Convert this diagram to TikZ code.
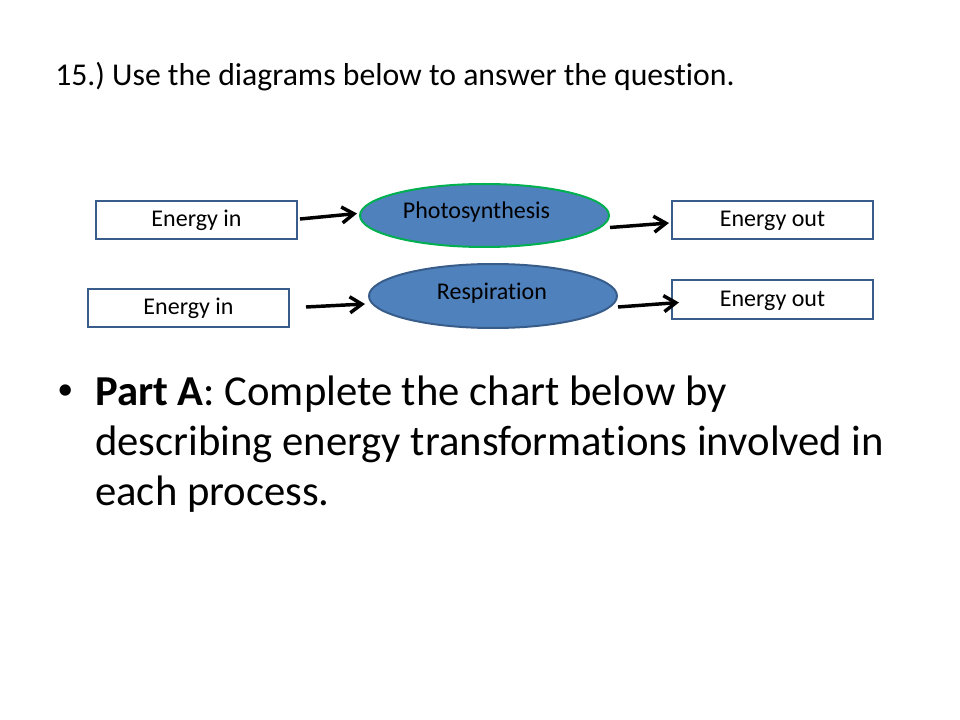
\documentclass[tikz,border=0pt]{standalone}
\usepackage{fontspec}
\setmainfont[Ligatures=NoCommon]{Carlito}
\frenchspacing
\usetikzlibrary{shapes.geometric,arrows.meta,calc}
\definecolor{boxblue}{RGB}{56,93,138}
\definecolor{fillblue}{RGB}{79,129,189}
\definecolor{ringgreen}{RGB}{0,176,80}
\tikzset{
  energybox/.style={draw=boxblue, line width=1.5pt, fill=white, inner sep=0pt,
    minimum width=150.75pt, minimum height=28.5pt, text height=13.5pt, text depth=3pt,
    font=\fontsize{18}{21}\selectfont},
  process/.style={ellipse, draw=boxblue, line width=1.5pt, fill=fillblue, inner sep=0pt,
    minimum width=186.75pt, minimum height=47.25pt},
  proclabel/.style={inner sep=0pt, font=\fontsize{18}{21}\selectfont},
  flow/.style={line width=2.6pt, -{Straight Barb[length=9pt, width=12pt, line width=2.6pt]}},
  slidetext/.style={anchor=base west, inner sep=0pt, font=\fontsize{32}{37}\selectfont}
}
\begin{document}
\begin{tikzpicture}[x=0.75pt, y=-0.75pt]
% slide area
\fill[white] (0,0) rectangle (960,720);
\useasboundingbox (0,0) rectangle (960,720);

% question
\node[anchor=base west, inner sep=0pt, font=\fontsize{23.8}{28}\selectfont] (question) at (55,86)
  {15.) Use the diagrams below to answer the question.};

% photosynthesis row
\node[energybox] (inA) at (196.5,220) {Energy in};
\node[process, draw=ringgreen] (photo) at (484.5,215.5) {};
\node[proclabel] (photoText) at ($(photo.center)+(-8,-3)$) {Photosynthesis};
\node[energybox] (outA) at (772.5,220) {Energy out};

% respiration row
\node[energybox] (inB) at (188.5,308) {Energy in};
\node[process, minimum width=186pt, minimum height=48pt] (resp) at (493,296) {};
\node[proclabel] (respText) at ($(resp.center)+(-1,-3)$) {Respiration};
\node[energybox] (outB) at (772.5,299.5) {Energy out};

% arrows
\draw[flow] ($(inA.east)+(2,-1)$) -- ($(photo.west)+(-2,-2)$);
\draw[flow] ($(photo.east)+(0,12)$) -- ($(outA.west)+(-2,3)$);
\draw[flow] ($(inB.east)+(16,-1)$) -- ($(resp.west)+(-3,8)$);
\draw[flow] ($(resp.east)+(0,11)$) -- ($(outB.west)+(8,3)$);

% part A
\node[anchor=base west, inner sep=0pt, font=\fontsize{24}{28}\selectfont] (dot) at (57,399) {\textbullet};
\node[slidetext] (partA1) at (95,405) {\textbf{Part A}: Complete the chart below by};
\node[slidetext] (partA2) at ($(partA1.base west)+(0,50)$) {describing energy transformations involved in};
\node[slidetext] (partA3) at ($(partA2.base west)+(0,50)$) {each process.};
\end{tikzpicture}
\end{document}
